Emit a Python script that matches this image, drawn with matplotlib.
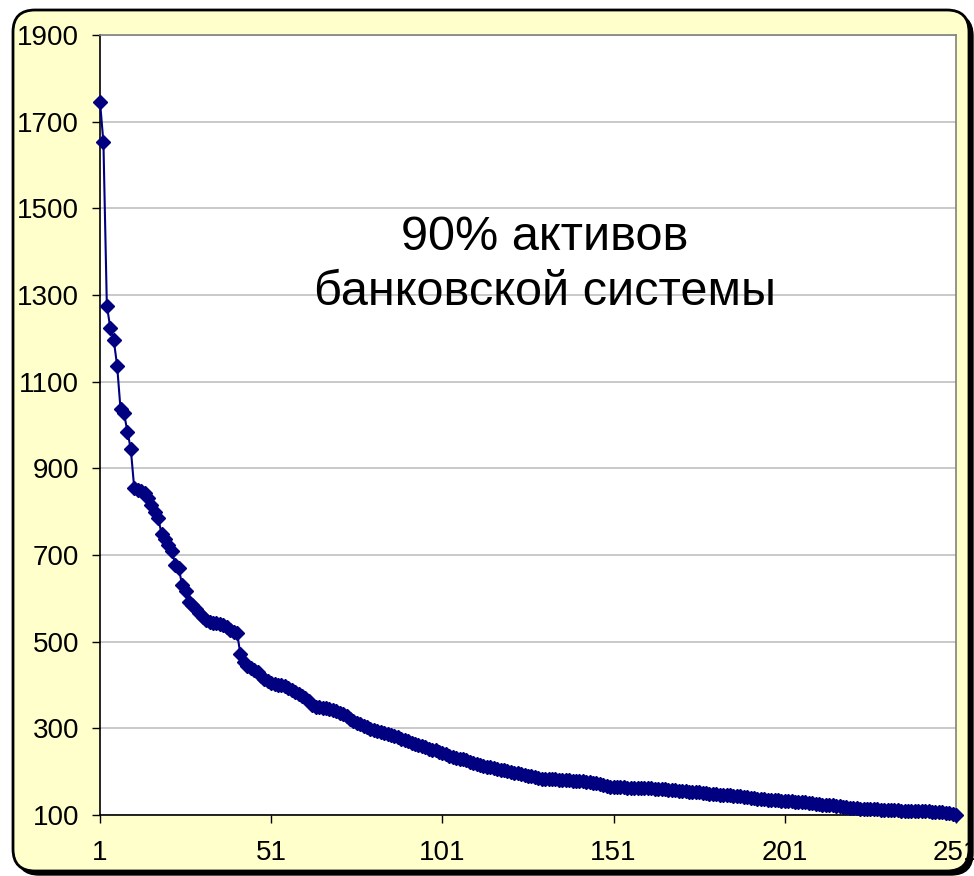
import matplotlib
matplotlib.use("Agg")
import matplotlib.pyplot as plt
from matplotlib.patches import FancyBboxPatch
from matplotlib.transforms import IdentityTransform
import numpy as np

plt.rcParams['font.family'] = ['Liberation Sans', 'DejaVu Sans']

# Активы банков (отсортировано по убыванию), номер банка 1..251
aktivy = [
    1746, 1652, 1275, 1225, 1197, 1137, 1036, 1027, 985, 944,
    854, 850, 847, 843, 832, 815, 800, 785, 748, 737,
    722, 710, 676, 670, 630, 618, 592, 585, 576, 566,
    558, 550, 545, 543, 542, 541, 538, 533, 528, 523,
    521, 472, 452, 443, 440, 435, 429, 421, 414, 409,
    405, 402, 401, 399, 397, 392, 388, 384, 380, 375,
    370, 362, 355, 350, 349, 348, 347, 345, 342, 339,
    336, 333, 329, 322, 316, 312, 310, 306, 302, 299,
    296, 294, 292, 290, 288, 285, 282, 279, 276, 273,
    270, 267, 265, 262, 259, 256, 253, 251, 249, 246,
    243, 240, 237, 234, 232, 230, 229, 226, 223, 220,
    218, 215, 213, 211, 210, 208, 206, 204, 203, 201,
    199, 198, 197, 195, 193, 191, 189, 187, 185, 184,
    183, 183, 182, 182, 181, 181, 180, 180, 179, 179,
    179, 178, 177, 176, 175, 173, 171, 169, 167, 165,
    164, 164, 164, 164, 163, 163, 163, 163, 162, 162,
    162, 162, 161, 161, 160, 159, 158, 157, 157, 156,
    156, 155, 154, 153, 153, 152, 151, 150, 149, 148,
    148, 147, 147, 146, 146, 145, 144, 143, 142, 141,
    140, 139, 138, 137, 136, 135, 135, 134, 134, 133,
    133, 132, 132, 131, 131, 130, 129, 128, 127, 126,
    125, 124, 124, 123, 122, 121, 120, 119, 118, 117,
    116, 116, 115, 115, 114, 114, 113, 113, 112, 112,
    111, 111, 111, 111, 110, 110, 110, 110, 110, 110,
    109, 109, 109, 108, 108, 107, 106, 105, 104, 103,
    101,
]
nomer = list(range(1, len(aktivy) + 1))

x_ticks = [1, 51, 101, 151, 201, 251]
y_ticks = [100, 300, 500, 700, 900, 1100, 1300, 1500, 1700, 1900]
nadpis = "90% активов\nбанковской системы"

fig = plt.figure(figsize=(9.74, 8.76), dpi=100, facecolor='white')

# fond du graphique (style Excel) avec ombre
ombre = FancyBboxPatch((17, 1), 956, 861, boxstyle="round,pad=0,rounding_size=22",
                       transform=IdentityTransform(), facecolor='black',
                       edgecolor='black', zorder=-2)
fond = FancyBboxPatch((13, 5), 956, 861, boxstyle="round,pad=0,rounding_size=22",
                      transform=IdentityTransform(), facecolor='#FFFFCC',
                      edgecolor='black', linewidth=2, zorder=-1)
fig.add_artist(ombre)
fig.add_artist(fond)

ax = fig.add_axes([100/974, 1 - 815/876, 856/974, 780/876])
ax.set_facecolor('white')
ax.plot(nomer, aktivy, color='#000080', linewidth=1.5, marker='D',
        markersize=7.5, markeredgecolor='#000080', markerfacecolor='#000080',
        clip_on=False, zorder=3)

ax.set_xlim(1, 251)
ax.set_ylim(100, 1900)
ax.set_xticks(x_ticks)
ax.set_yticks(y_ticks)
ax.yaxis.grid(True, color='#C0C0C0', linewidth=1.2)
ax.set_axisbelow(True)

for s in ['top', 'right']:
    ax.spines[s].set_color('#808080')
    ax.spines[s].set_linewidth(1.2)
for s in ['left', 'bottom']:
    ax.spines[s].set_color('black')
    ax.spines[s].set_linewidth(1.2)

ax.tick_params(axis='y', direction='out', length=6, width=1, pad=9, labelsize=20)
ax.tick_params(axis='x', direction='out', length=6, width=1, pad=12, labelsize=20)

ax.text(0.52, 0.705, nadpis, transform=ax.transAxes, ha='center', va='center',
        fontsize=35, linespacing=1.3)

fig.savefig("out.png", dpi=100)
